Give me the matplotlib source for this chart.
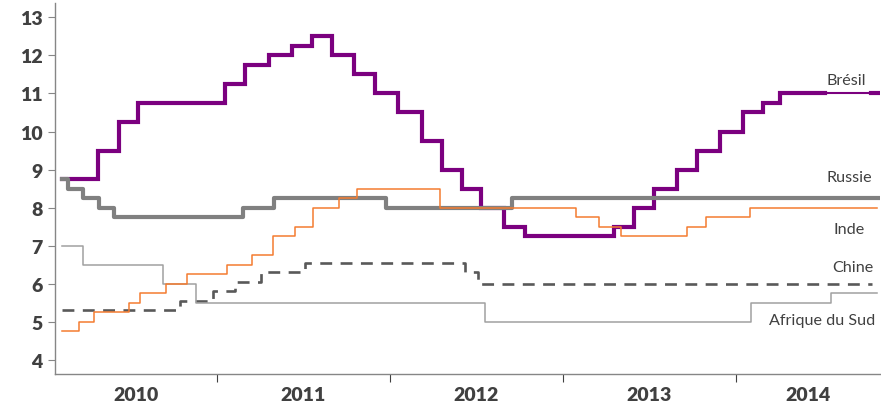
import matplotlib
matplotlib.use("Agg")
import matplotlib.pyplot as plt
from matplotlib.ticker import FixedLocator, NullFormatter, FixedFormatter

# Dates as decimal years, values in %
bresil_x = [2010.106, 2010.316, 2010.436, 2010.547, 2011.048, 2011.163, 2011.304, 2011.433,
            2011.549, 2011.664, 2011.793, 2011.915, 2012.049, 2012.184, 2012.300, 2012.415,
            2012.527, 2012.660, 2012.781, 2013.297, 2013.411, 2013.527, 2013.661, 2013.776,
            2013.908, 2014.042, 2014.158, 2014.254, 2014.820]
bresil_y = [8.75, 9.5, 10.25, 10.75, 11.25, 11.75, 12.0, 12.25,
            12.5, 12.0, 11.5, 11.0, 10.5, 9.75, 9.0, 8.5,
            8.0, 7.5, 7.25, 7.5, 8.0, 8.5, 9.0, 9.5,
            10.0, 10.5, 10.75, 11.0, 11.0]
bresil_gap = [2014.514, 2014.780]  # thinner portion of the Brazil line

russie_x = [2010.106, 2010.143, 2010.226, 2010.322, 2010.408, 2011.150, 2011.331, 2011.978,
            2012.704, 2014.820]
russie_y = [8.75, 8.5, 8.25, 8.0, 7.75, 8.0, 8.25, 8.0, 8.25, 8.25]

inde_x = [2010.106, 2010.206, 2010.291, 2010.495, 2010.557, 2010.705, 2010.827, 2011.061,
          2011.202, 2011.327, 2011.452, 2011.558, 2011.707, 2011.812, 2012.290, 2013.076,
          2013.211, 2013.336, 2013.719, 2013.827, 2014.081, 2014.813]
inde_y = [4.75, 5.0, 5.25, 5.5, 5.75, 6.0, 6.25, 6.5,
          6.75, 7.25, 7.5, 8.0, 8.25, 8.5, 8.0, 7.75,
          7.5, 7.25, 7.5, 7.75, 8.0, 8.0]

chine_x = [2010.106, 2010.788, 2010.980, 2011.106, 2011.256, 2011.510, 2012.435, 2012.511, 2014.784]
chine_y = [5.31, 5.56, 5.81, 6.06, 6.31, 6.56, 6.31, 6.0, 6.0]

afsud_x = [2010.106, 2010.226, 2010.688, 2010.880, 2012.550, 2014.085, 2014.547, 2014.816]
afsud_y = [7.0, 6.5, 6.0, 5.5, 5.0, 5.5, 5.75, 5.75]

year_labels = ["2010", "2011", "2012", "2013", "2014"]
year_bounds = [2011, 2012, 2013, 2014]
y_ticks = [4, 5, 6, 7, 8, 9, 10, 11, 12, 13]

series_labels = ["Brésil", "Russie", "Inde", "Chine", "Afrique du Sud"]

plt.rcParams['font.family'] = ['Lato', 'DejaVu Sans']

fig = plt.figure(figsize=(8.81, 4.10), dpi=100)
ax = fig.add_axes([0.0628, 0.0854, 0.9361, 0.9048])

XMIN, XMAX = 2010.0676, 2014.832
ax.set_xlim(XMIN, XMAX)
ax.set_ylim(3.633, 13.375)

# Brazil: thick line with a thin portion near the end
bx_main = [x for x in bresil_x if x <= bresil_gap[0]] + [bresil_gap[0]]
by_main = [y for x, y in zip(bresil_x, bresil_y) if x <= bresil_gap[0]]
by_main = by_main + [by_main[-1]]
ax.step(bx_main, by_main, where='post', color='#7B007F', lw=3.0, zorder=2,
        solid_joinstyle='miter')
ax.plot(bresil_gap, [bresil_y[-1]] * 2, color='#7B007F', lw=1.5, zorder=2)
ax.plot([bresil_gap[1], bresil_x[-1]], [bresil_y[-1]] * 2, color='#7B007F', lw=3.0, zorder=2)

ax.step(russie_x, russie_y, where='post', color='#808080', lw=3.0, zorder=3)
ax.step(inde_x, inde_y, where='post', color='#F47C30', lw=1.1, zorder=4)
ax.step(chine_x, chine_y, where='post', color='#595959', lw=1.9, zorder=3,
        dashes=(4.5, 3.2))
ax.step(afsud_x, afsud_y, where='post', color='#A0A0A0', lw=1.1, zorder=3)

# Series labels (centre positions)
lab_pos = [(2014.639, 11.35), (2014.653, 8.81), (2014.653, 7.44), (2014.674, 6.45), (2014.497, 5.04)]
for txt, (lx, ly) in zip(series_labels, lab_pos):
    ax.text(lx, ly, txt, ha='center', va='center', fontsize=11.6, color='#404040')

# Axes styling
for s in ['top', 'right']:
    ax.spines[s].set_visible(False)
for s in ['left', 'bottom']:
    ax.spines[s].set_color('#868686')
    ax.spines[s].set_linewidth(1.0)

ax.set_yticks(y_ticks)
ax.set_yticklabels([str(t) for t in y_ticks])
ax.tick_params(axis='y', length=5, color='#868686', labelsize=14, labelcolor='#404040', pad=4)
for lbl in ax.get_yticklabels():
    lbl.set_fontweight('heavy')

ax.xaxis.set_major_locator(FixedLocator(year_bounds))
ax.xaxis.set_major_formatter(NullFormatter())
mids = [(XMIN + 2011) / 2, 2011.5, 2012.5, 2013.5, (2014 + XMAX) / 2]
ax.xaxis.set_minor_locator(FixedLocator(mids))
ax.xaxis.set_minor_formatter(FixedFormatter(year_labels))
ax.tick_params(axis='x', which='major', length=6, color='#404040', direction='out')
ax.tick_params(axis='x', which='minor', length=0, labelsize=14, labelcolor='#404040', pad=9)
for lbl in ax.get_xticklabels(minor=True):
    lbl.set_fontweight('heavy')

fig.savefig("out.png", dpi=100)
